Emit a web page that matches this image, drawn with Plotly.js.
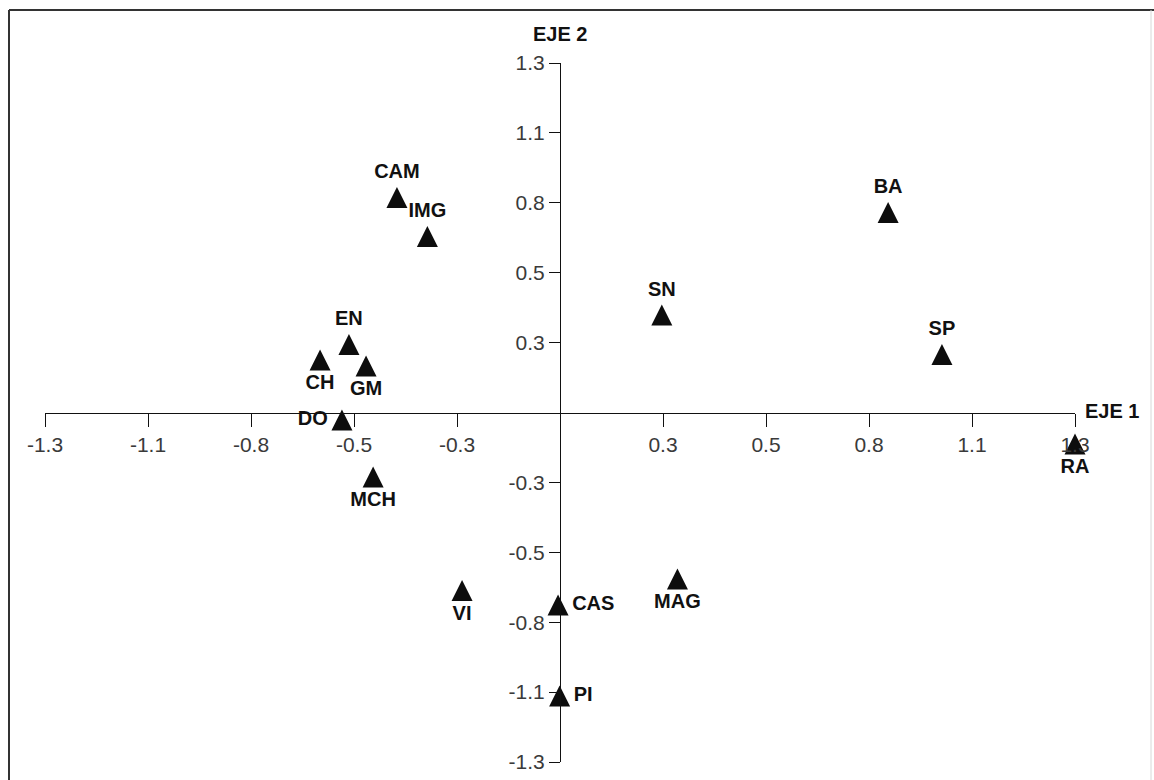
<!DOCTYPE html>
<html>
<head>
<meta charset="utf-8">
<script src="https://cdn.plot.ly/plotly-3.0.1.min.js"></script>
<style>
  html, body { margin: 0; padding: 0; background: #ffffff; }
  #chart { width: 1154px; height: 780px; }
</style>
</head>
<body>
<div id="chart"></div>
<script>
// ---- data ----
const names = ["CAM", "IMG", "BA", "SN", "SP", "RA", "EN", "CH", "GM", "DO", "MCH", "VI", "CAS", "MAG", "PI"];
const eje1 = [-0.418, -0.340, 0.841, 0.261, 0.979, 1.320, -0.541, -0.615, -0.497, -0.559, -0.479, -0.251, -0.005, 0.301, -0.001];
const eje2 = [0.812, 0.665, 0.755, 0.368, 0.219, -0.119, 0.257, 0.198, 0.176, -0.028, -0.244, -0.672, -0.727, -0.629, -1.071];

const xTickVals = [-1.32, -1.056, -0.792, -0.528, -0.264, 0.264, 0.528, 0.792, 1.056, 1.32];
const xTickText = ["-1.3", "-1.1", "-0.8", "-0.5", "-0.3", "0.3", "0.5", "0.8", "1.1", "1.3"];
const yTickVals = [-1.32, -1.056, -0.792, -0.528, -0.264, 0.264, 0.528, 0.792, 1.056, 1.32];
const yTickText = ["-1.3", "-1.1", "-0.8", "-0.5", "-0.3", "0.3", "0.5", "0.8", "1.1", "1.3"];

// label placement (style, not data)
const labelPlacement = ["top center", "top center", "top center", "top center", "top center",
  "bottom center", "top center", "bottom center", "bottom center", "middle left",
  "bottom center", "bottom center", "middle right", "bottom center", "middle right"];

const FONT = "Liberation Sans, Arial, Helvetica, sans-serif";
const RANGE = [-1.32, 1.32];
const MSIZE = 21;

const trace = {
  type: "scatter",
  mode: "markers+text",
  x: eje1,
  y: eje2,
  text: names,
  textposition: labelPlacement,
  textfont: { family: FONT, size: 20, color: "#111111", weight: "bold" },
  // down-arrow turned 180 degrees = upward triangle; standoff re-centres it on the point
  marker: { symbol: "arrow-down", angle: 180, standoff: MSIZE / 2, size: MSIZE, color: "#0d0d0d", line: { width: 0 } },
  cliponaxis: false,
  hoverinfo: "text",
  showlegend: false
};

const axisCommon = {
  range: RANGE,
  showgrid: false,
  zeroline: false,
  fixedrange: true,
  anchor: "free",
  position: 0.5,
  linecolor: "#111111",
  linewidth: 1,
  tickcolor: "#111111",
  tickwidth: 1,
  tickfont: { family: FONT, size: 21, color: "#3a3a3a" },
  tickmode: "array"
};

const layout = {
  width: 1154,
  height: 780,
  margin: { l: 45, r: 79, t: 63, b: 18, pad: 0 },
  paper_bgcolor: "#ffffff",
  plot_bgcolor: "rgba(0,0,0,0)",
  showlegend: false,
  xaxis: Object.assign({}, axisCommon, {
    tickvals: xTickVals, ticktext: xTickText,
    showline: true, ticks: "outside", ticklen: 13, side: "bottom"
  }),
  xaxis2: Object.assign({}, axisCommon, {
    tickvals: xTickVals, ticktext: xTickText, overlaying: "x",
    showline: false, ticks: "inside", ticklen: 13, showticklabels: false, side: "bottom"
  }),
  yaxis: Object.assign({}, axisCommon, {
    tickvals: yTickVals, ticktext: yTickText,
    showline: true, ticks: "outside", ticklen: 11, side: "left"
  }),
  yaxis2: Object.assign({}, axisCommon, {
    tickvals: yTickVals, ticktext: yTickText, overlaying: "y",
    showline: false, ticks: "inside", ticklen: 11, showticklabels: false, side: "left"
  }),
  annotations: [
    { text: "EJE 1", xref: "paper", x: 1, xanchor: "left", xshift: 8,
      yref: "y", y: 0, yanchor: "middle", yshift: 2, showarrow: false,
      font: { family: FONT, size: 20, color: "#111111", weight: "bold" } },
    { text: "EJE 2", xref: "x", x: 0, xanchor: "center",
      yref: "paper", y: 1, yanchor: "middle", yshift: 29, showarrow: false,
      font: { family: FONT, size: 20, color: "#111111", weight: "bold" } }
  ],
  shapes: [
    { type: "line", xref: "paper", yref: "paper", x0: -0.03495, x1: -0.03495, y0: 1.0758, y1: -0.05,
      line: { color: "#333333", width: 2 } },
    { type: "line", xref: "paper", yref: "paper", x0: -0.03495, x1: 1.0767, y0: 1.0758, y1: 1.0758,
      line: { color: "#333333", width: 2 } },
    { type: "line", xref: "paper", yref: "paper", x0: 1.0738, x1: 1.0738, y0: 1.0758, y1: -0.05,
      line: { color: "#d8d8d8", width: 1 } }
  ]
};

Plotly.newPlot("chart", [trace], layout, { displayModeBar: false, staticPlot: true });
</script>
</body>
</html>
